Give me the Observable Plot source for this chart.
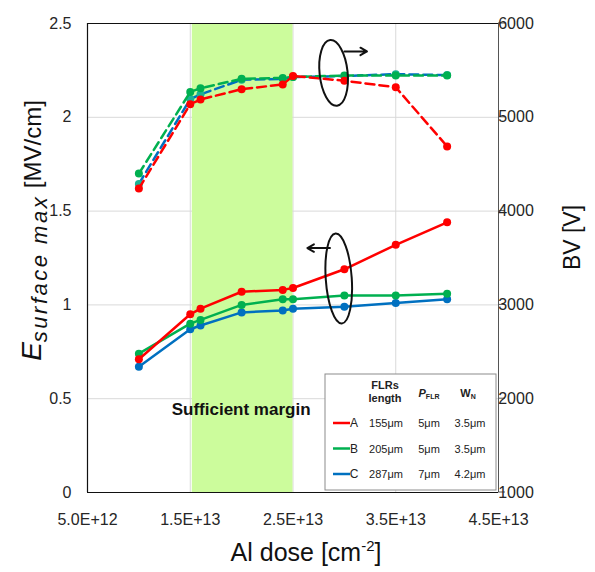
<!DOCTYPE html>
<html>
<head>
<meta charset="utf-8">
<script src="https://cdn.jsdelivr.net/npm/d3@7"></script>
<script src="https://cdn.jsdelivr.net/npm/@observablehq/plot@0.6"></script>
<style>
  body { margin: 0; background: #fff; }
  #chart svg { display: block; }
</style>
</head>
<body>
<div id="chart"></div>
<script>
// ---------- data ----------
const dose = [1.0e13, 1.5e13, 1.6e13, 2.0e13, 2.4e13, 2.5e13, 3.0e13, 3.5e13, 4.0e13];
const esA = [0.71, 0.95, 0.98, 1.07, 1.08, 1.09, 1.19, 1.32, 1.44];
const esB = [0.74, 0.90, 0.92, 1.00, 1.03, 1.03, 1.05, 1.05, 1.06];
const esC = [0.67, 0.87, 0.89, 0.96, 0.97, 0.98, 0.99, 1.01, 1.03];
const bvA = [4240, 5140, 5190, 5300, 5350, 5440, 5390, 5320, 4690];
const bvB = [4400, 5270, 5310, 5410, 5420, 5430, 5445, 5445, 5445];
const bvC = [4290, 5195, 5245, 5400, 5410, 5430, 5440, 5460, 5450];
const seriesNames = ["A", "B", "C"];
const flrLength = ["155μm", "205μm", "287μm"];
const pFlr = ["5μm", "5μm", "7μm"];
const wN = ["3.5μm", "3.5μm", "4.2μm"];
const xTicks = [5e12, 1.5e13, 2.5e13, 3.5e13, 4.5e13];
const yTicks = [0, 0.5, 1, 1.5, 2, 2.5];
const bvTicks = [1000, 2000, 3000, 4000, 5000, 6000];
const marginBand = [1.52e13, 2.5e13];
const bandLabel = "Sufficient margin";

// ---------- styling ----------
const colors = {A: "#ff0000", B: "#00b050", C: "#0070c0"};
const dashedMarker = {A: "#ff0000", B: "#00b050", C: "#1ab394"};
const esBySeries = {A: esA, B: esB, C: esC};
const bvBySeries = {A: bvA, B: bvB, C: bvC};
const drawOrder = ["C", "B", "A"];
// BV (right axis, 1000..6000) mapped onto the left axis range (0..2.5)
const bvToLeft = v => (v - 1000) / 2000;

const solidRows = drawOrder.flatMap(s => dose.map((d, i) => ({series: s, dose: d, value: esBySeries[s][i]})));
const dashedRows = drawOrder.flatMap(s => dose.map((d, i) => ({series: s, dose: d, value: bvToLeft(bvBySeries[s][i])})));

// annotation loops (ellipse + arrow), anchored in data units
const loops = [
  {cx: 2.90e13, cy: 2.234, rx: 14, ry: 33, tilt: -6},
  {cx: 2.95e13, cy: 1.138, rx: 13, ry: 45, tilt: -4}
];
const loopArrows = [
  {x1: 3.0e13, y1: 2.351, x2: 3.22e13, y2: 2.351},
  {x1: 2.86e13, y1: 1.303, x2: 2.64e13, y2: 1.303}
];

const font = "'Liberation Sans', Arial, sans-serif";

function decorations(index, scales, values, dims) {
  const {x, y} = scales;
  const g = d3.create("svg:g").attr("font-family", font);
  const left = dims.marginLeft, top = dims.marginTop;
  const right = dims.width - dims.marginRight, bottom = dims.height - dims.marginBottom;

  // loops
  for (const e of loops) {
    const cx = x(e.cx), cy = y(e.cy);
    g.append("ellipse")
      .attr("cx", cx).attr("cy", cy).attr("rx", e.rx).attr("ry", e.ry)
      .attr("transform", `rotate(${e.tilt} ${cx} ${cy})`)
      .attr("fill", "none").attr("stroke", "#111").attr("stroke-width", 2);
  }

  // right axis (BV)
  const ra = g.append("g").attr("font-size", 16).attr("fill", "#262626");
  for (const t of bvTicks) {
    const py = y(bvToLeft(t));
    ra.append("line").attr("x1", right).attr("x2", right + 7).attr("y1", py).attr("y2", py)
      .attr("stroke", "#555").attr("stroke-width", 1);
    ra.append("text").attr("x", right + 18).attr("y", py).attr("dy", "0.35em").text(t);
  }

  // axis titles
  const lt = g.append("text")
    .attr("transform", `translate(41,${(top + bottom) / 2 - 27}) rotate(-90)`)
    .attr("text-anchor", "middle").attr("fill", "#111");
  lt.append("tspan").attr("font-style", "italic").attr("font-size", 28).text("E");
  lt.append("tspan").attr("font-style", "italic").attr("font-size", 22).attr("dy", 6)
    .attr("letter-spacing", 2.5).text("surface max");
  lt.append("tspan").attr("font-size", 24).attr("dy", -6).text(" [MV/cm]");

  const bt = g.append("text").attr("x", 306).attr("y", dims.height - 11)
    .attr("text-anchor", "middle").attr("font-size", 25).attr("fill", "#111");
  bt.append("tspan").text("Al dose [cm");
  bt.append("tspan").attr("font-size", 15).attr("dy", -10).text("-2");
  bt.append("tspan").attr("dy", 10).text("]");

  g.append("text")
    .attr("transform", `translate(${right + 82},${(top + bottom) / 2 - 20}) rotate(-90)`)
    .attr("text-anchor", "middle").attr("font-size", 23).attr("fill", "#111").text("BV [V]");

  // legend box
  const bw = 171, bh = 116;
  const bx = right - 2 - bw, by = bottom - 2 - bh;
  const lg = g.append("g").attr("font-size", 11).attr("fill", "#222");
  lg.append("rect").attr("x", bx).attr("y", by).attr("width", bw).attr("height", bh)
    .attr("fill", "#fff").attr("stroke", "#8c8c8c").attr("stroke-width", 1);
  lg.append("text").attr("x", bx + 60).attr("y", by + 15).attr("text-anchor", "middle")
    .attr("font-weight", "bold").text("FLRs");
  lg.append("text").attr("x", bx + 60).attr("y", by + 28).attr("text-anchor", "middle")
    .attr("font-weight", "bold").text("length");
  const ph = lg.append("text").attr("x", bx + 104).attr("y", by + 23).attr("text-anchor", "middle")
    .attr("font-weight", "bold");
  ph.append("tspan").attr("font-style", "italic").text("P");
  ph.append("tspan").attr("font-size", 7).attr("dy", 2).text("FLR");
  const wh = lg.append("text").attr("x", bx + 143).attr("y", by + 23).attr("text-anchor", "middle")
    .attr("font-weight", "bold");
  wh.append("tspan").text("W");
  wh.append("tspan").attr("font-size", 7).attr("dy", 2).text("N");
  seriesNames.forEach((s, i) => {
    const ry = by + 53 + i * 25.5;
    lg.append("line").attr("x1", bx + 8).attr("x2", bx + 25).attr("y1", ry - 4).attr("y2", ry - 4)
      .attr("stroke", colors[s]).attr("stroke-width", 2.5);
    lg.append("text").attr("x", bx + 29).attr("y", ry).attr("font-size", 12).text(s);
    lg.append("text").attr("x", bx + 61).attr("y", ry).attr("text-anchor", "middle").text(flrLength[i]);
    lg.append("text").attr("x", bx + 104).attr("y", ry).attr("text-anchor", "middle").text(pFlr[i]);
    lg.append("text").attr("x", bx + 145).attr("y", ry).attr("text-anchor", "middle").text(wN[i]);
  });
  return g.node();
}

const marks = [
  Plot.ruleX(xTicks, {stroke: "#d9d9d9", strokeWidth: 1}),
  Plot.ruleY(yTicks, {stroke: "#d9d9d9", strokeWidth: 1}),
  Plot.rect([{x1: marginBand[0], x2: marginBand[1], y1: yTicks[0], y2: yTicks[yTicks.length - 1]}],
    {x1: "x1", x2: "x2", y1: "y1", y2: "y2", fill: "#ccfc9c"}),
  Plot.ruleX([xTicks[0]], {stroke: "#111", strokeWidth: 1.2}),
  Plot.ruleX([xTicks[xTicks.length - 1]], {stroke: "#555", strokeWidth: 1}),
  Plot.ruleY([yTicks[0]], {stroke: "#111", strokeWidth: 1.2}),
  Plot.ruleY([yTicks[yTicks.length - 1]], {stroke: "#111", strokeWidth: 1.2}),
  Plot.text([{label: bandLabel, x: 1.995e13, y: 0.44}],
    {x: "x", y: "y", text: "label", fontSize: 17, fontWeight: "bold", fill: "#111"})
];
for (const s of drawOrder) {
  const rows = dashedRows.filter(r => r.series === s);
  marks.push(Plot.line(rows, {x: "dose", y: "value", stroke: colors[s], strokeWidth: 2.5, strokeDasharray: "9,5"}));
  marks.push(Plot.dot(rows, {x: "dose", y: "value", r: 4, fill: dashedMarker[s]}));
}
for (const s of drawOrder) {
  const rows = solidRows.filter(r => r.series === s);
  marks.push(Plot.line(rows, {x: "dose", y: "value", stroke: colors[s], strokeWidth: 2.5}));
  marks.push(Plot.dot(rows, {x: "dose", y: "value", r: 4, fill: colors[s]}));
}
marks.push(Plot.arrow(loopArrows, {x1: "x1", y1: "y1", x2: "x2", y2: "y2", stroke: "#111", strokeWidth: 2, headLength: 9, inset: 0}));
marks.push(decorations);

const chart = Plot.plot({
  width: 595,
  height: 572,
  marginLeft: 87,
  marginRight: 97,
  marginTop: 23,
  marginBottom: 80,
  style: {fontFamily: font, fontSize: "16px", color: "#262626", background: "#fff", overflow: "visible"},
  x: {domain: [xTicks[0], xTicks[xTicks.length - 1]], ticks: xTicks, tickSize: 0, tickPadding: 21,
      tickFormat: d => d.toExponential(1).toUpperCase(), label: null},
  y: {domain: [yTicks[0], yTicks[yTicks.length - 1]], ticks: yTicks, tickSize: 0, tickPadding: 16,
      tickFormat: d => String(d), label: null},
  marks
});
document.getElementById("chart").append(chart);
</script>
</body>
</html>
